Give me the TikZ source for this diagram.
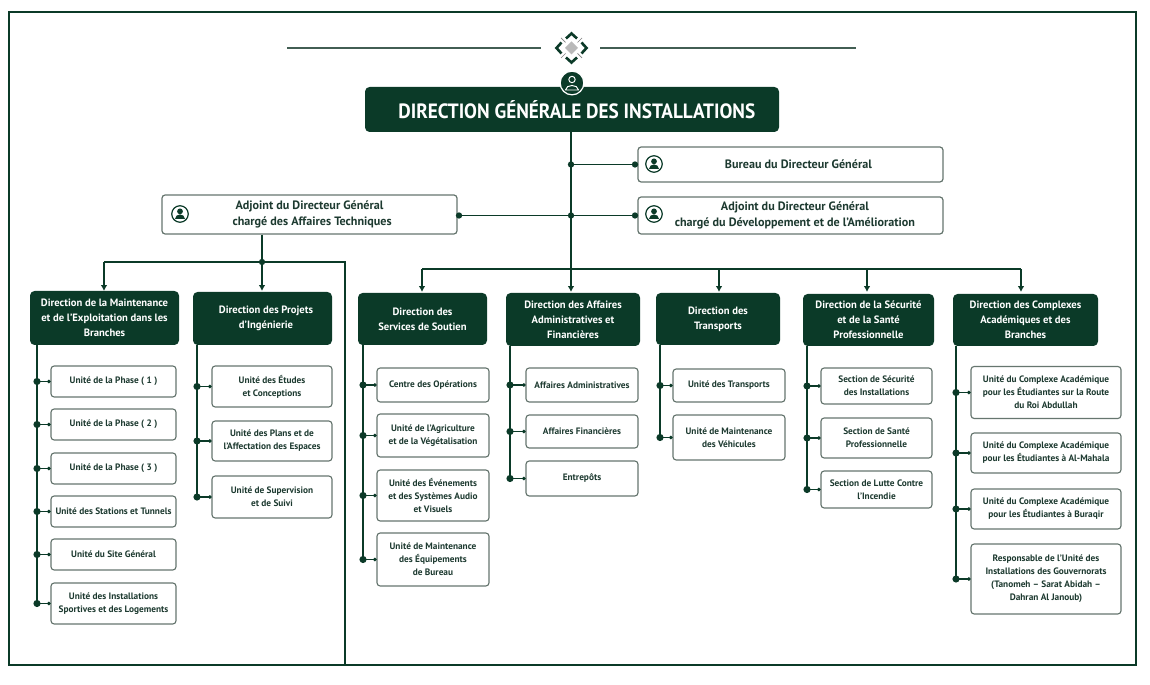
\documentclass[tikz,border=0pt]{standalone}
\usepackage{fontspec}
\setmainfont{PT Sans}
\newfontfamily\titlefont[FakeStretch=0.93]{PT Sans}
\usetikzlibrary{arrows.meta}

\definecolor{deepgreen}{HTML}{0B3A28}
\definecolor{edgegrey}{HTML}{66766F}
\definecolor{inkgreen}{HTML}{1D3A30}

\begin{document}
\begin{tikzpicture}
	[x=0.02cm,y=-0.02cm,
		wh/.style 2 args={minimum width=#1*0.02cm,minimum height=#2*0.02cm},
		headbox/.style={rectangle,rounded corners=2.6pt,fill=deepgreen,text=white,
			inner sep=0pt,align=center,font=\bfseries\fontsize{6.05}{8.5}\selectfont},
		deputybox/.style={rectangle,rounded corners=1.8pt,draw=edgegrey,line width=0.7pt,fill=white,
			text=inkgreen,inner sep=0pt,align=center,font=\bfseries\fontsize{6.9}{8.8}\selectfont},
		unitbox/.style={rectangle,rounded corners=1.8pt,draw=edgegrey,line width=0.65pt,fill=white,
			text=inkgreen,inner sep=0pt,align=center,font=\bfseries\fontsize{5.3}{7.4}\selectfont},
		spine/.style={draw=deepgreen,line width=1pt},
		feed/.style={draw=deepgreen,line width=1.05pt},
		twig/.style={draw=deepgreen,line width=0.9pt,shorten <=-2pt,{Circle[length=4pt]}-{Circle[length=1.8pt]}},
		down/.style={draw=deepgreen,line width=1.05pt,-{Latex[length=3.4pt,width=3.8pt]}},
		knot/.style={circle,fill=deepgreen,inner sep=0pt,minimum size=3.6pt},
		personring/.style={circle,draw=deepgreen,line width=0.7pt,fill=white,inner sep=0pt,minimum size=9.4pt}]

	\useasboundingbox (0,0) rectangle (1150,685);
	\fill[white] (0,0) rectangle (1150,685);
	\draw[deepgreen,line width=1.4pt] (9,12) rectangle (1136,665);

	% head ornament
	\coordinate (rule1a) at (287,48);
	\coordinate (rule1b) at (541,48);
	\coordinate (rule2a) at (600,48);
	\coordinate (rule2b) at (856,48);
	\draw[edgegrey!60!deepgreen,line width=0.8pt] (rule1a) -- (rule1b);
	\draw[edgegrey!60!deepgreen,line width=0.8pt] (rule2a) -- (rule2b);
	\fill[gray!55] (571.5,41.5) -- (578,48) -- (571.5,54.5) -- (565,48) -- cycle;
	\draw[deepgreen,line width=1.5pt] (566,38.5) -- (571.5,33.5) -- (577,38.5);
	\draw[deepgreen,line width=1.5pt] (561.5,42.5) -- (556.5,48) -- (561.5,53.5);
	\draw[deepgreen,line width=1.5pt] (581.5,42.5) -- (586.5,48) -- (581.5,53.5);
	\draw[deepgreen,line width=1.5pt] (566,57.5) -- (571.5,62.5) -- (577,57.5);
	\draw[gray,line width=0.4pt] (561,38) -- (565.5,42.5);
	\draw[gray,line width=0.4pt] (582,38) -- (577.5,42.5);
	\draw[gray,line width=0.4pt] (561,58) -- (565.5,53.5);
	\draw[gray,line width=0.4pt] (582,58) -- (577.5,53.5);

	% top level
	\node[headbox,wh={414}{45},font=\titlefont\bfseries\fontsize{11.76}{13}\selectfont] (general) at (572,109.5) {\hspace*{5.5pt}\raisebox{0.5pt}{DIRECTION GÉNÉRALE DES INSTALLATIONS}};
	\node[circle,fill=deepgreen,draw=white,line width=0.7pt,inner sep=0pt,minimum size=13.5pt] (topicon) at (572,83) {};
	\draw[white,line width=0.55pt] (572,79.5) circle [radius=3.2];
	\draw[white,line width=0.55pt] (565.5,90) .. controls (566,84) and (578,84) .. (578.5,90) -- cycle;

	\node[deputybox,wh={305}{35}] (bureau) at (790.5,164.5) {\hspace*{9pt}Bureau du Directeur Général};
	\node[deputybox,wh={305}{37}] (adjdev) at (790.5,215.5) {\hspace*{5pt}Adjoint du Directeur Général\\\hspace*{5pt}chargé du Développement et de l'Amélioration};
	\node[deputybox,wh={295}{39}] (adjtech) at (309.5,214.5) {Adjoint du Directeur Général\\\hspace*{3pt}chargé des Affaires Techniques};

	\node[personring] (ico1) at (654,164) {};
	\node[personring] (ico2) at (654,214) {};
	\node[personring] (ico3) at (180,214) {};
	\foreach \ico in {ico1,ico2,ico3} {
		\fill[deepgreen] ([yshift=1.5pt]\ico.center) circle [radius=1.65pt];
		\fill[deepgreen] ([xshift=-3.1pt,yshift=-3.1pt]\ico.center) .. controls ([xshift=-3.1pt,yshift=0.6pt]\ico.center) and ([xshift=3.1pt,yshift=0.6pt]\ico.center) .. ([xshift=3.1pt,yshift=-3.1pt]\ico.center) -- cycle;
	}

	% directions
	\node[headbox,wh={149}{54}] (d1) at (104.5,318) {Direction de la Maintenance\\et de l'Exploitation dans les\\Branches};
	\node[headbox,wh={139}{53}] (d2) at (262.5,318.5) {\hspace*{4pt}Direction des Projets\\\hspace*{4pt}d'Ingénierie};
	\node[headbox,wh={129}{52}] (d3) at (422.5,319) {Direction des\\Services de Soutien};
	\node[headbox,wh={134}{53}] (d4) at (573,319.5) {Direction des Affaires\\Administratives et\\Financières};
	\node[headbox,wh={124}{52}] (d5) at (718,319) {Direction des\\Transports};
	\node[headbox,wh={131}{52}] (d6) at (868.5,320) {Direction de la Sécurité\\et de la Santé\\Professionnelle};
	\node[headbox,wh={145}{52}] (d7) at (1025.5,320) {Direction des Complexes\\Académiques et des\\Branches};

	% trunk and feeds
	\coordinate (trunkend) at (571,269);
	\coordinate (busleft) at (422,269);
	\coordinate (busright) at (1021,269);
	\coordinate (techjoint) at (262,262);
	\coordinate (cutbottom) at (345,665);
	\coordinate (a1) at (104,291);
	\coordinate (a2) at (262,291);
	\coordinate (a3) at (422,292);
	\coordinate (a4) at (571,292);
	\coordinate (a5) at (719,292);
	\coordinate (a6) at (867,292);
	\coordinate (a7) at (1021,292);
	\draw[feed] (general.south -| trunkend) -- (trunkend);
	\draw[feed] (trunkend |- bureau) -- (bureau);
	\draw[feed] (adjtech.east |- adjdev) -- (adjdev);
	\node[knot] (k1) at (trunkend |- bureau) {};
	\node[knot] (k2) at (trunkend |- adjdev) {};
	\node[knot] (k3) at (635,164.5) {};
	\node[knot] (k4) at (635,215.5) {};
	\node[knot] (k5) at (459,215.5) {};
	\draw[feed] (busleft) -- (busright);
	\draw[down] (busleft) -- (a3);
	\draw[down] (trunkend) -- (a4);
	\draw[down] (trunkend -| a5) -- (a5);
	\draw[down] (trunkend -| a6) -- (a6);
	\draw[down] (busright) -- (a7);

	\draw[feed] (adjtech.south -| techjoint) -- (techjoint);
	\draw[feed] (techjoint -| a1) -- (techjoint -| cutbottom) -- (cutbottom);
	\draw[down] (techjoint -| a1) -- (a1);
	\draw[down] (techjoint) -- (a2);
	\node[knot] (k6) at (techjoint) {};

	% units under d1
	\node[unitbox,wh={125}{31}] (u11) at (113.5,381.5) {Unité de la Phase ( 1 )};
	\node[unitbox,wh={125}{31}] (u12) at (113.5,424.5) {Unité de la Phase ( 2 )};
	\node[unitbox,wh={125}{31}] (u13) at (113.5,468.5) {Unité de la Phase ( 3 )};
	\node[unitbox,wh={125}{31}] (u14) at (113.5,511.5) {Unité des Stations et Tunnels};
	\node[unitbox,wh={125}{31}] (u15) at (113.5,554.5) {Unité du Site Général};
	\node[unitbox,wh={125}{41}] (u16) at (113.5,603.5) {Unité des Installations\\Sportives et des Logements};
	\coordinate (s1) at (37,345);
	\draw[spine] (s1) -- (s1 |- u16);
	\draw[twig] (s1 |- u11) -- (u11);
	\draw[twig] (s1 |- u12) -- (u12);
	\draw[twig] (s1 |- u13) -- (u13);
	\draw[twig] (s1 |- u14) -- (u14);
	\draw[twig] (s1 |- u15) -- (u15);
	\draw[twig] (s1 |- u16) -- (u16);

	% units under d2
	\node[unitbox,wh={120}{41}] (u21) at (272,386.5) {Unité des Études\\et Conceptions};
	\node[unitbox,wh={120}{40}] (u22) at (272,441) {Unité des Plans et de\\l'Affectation des Espaces};
	\node[unitbox,wh={120}{42}] (u23) at (272,497) {Unité de Supervision\\et de Suivi};
	\coordinate (s2) at (197,345);
	\draw[spine] (s2) -- (s2 |- u23);
	\draw[twig] (s2 |- u21) -- (u21);
	\draw[twig] (s2 |- u22) -- (u22);
	\draw[twig] (s2 |- u23) -- (u23);

	% units under d3
	\node[unitbox,wh={112}{34}] (u31) at (433,385) {Centre des Opérations};
	\node[unitbox,wh={112}{43}] (u32) at (433,435.5) {Unité de l'Agriculture\\et de la Végétalisation};
	\node[unitbox,wh={112}{51}] (u33) at (433,495.5) {Unité des Événements\\et des Systèmes Audio\\et Visuels};
	\node[unitbox,wh={112}{53}] (u34) at (433,559.5) {Unité de Maintenance\\des Équipements\\de Bureau};
	\coordinate (s3) at (363,345);
	\draw[spine] (s3) -- (s3 |- u34);
	\draw[twig] (s3 |- u31) -- (u31);
	\draw[twig] (s3 |- u32) -- (u32);
	\draw[twig] (s3 |- u33) -- (u33);
	\draw[twig] (s3 |- u34) -- (u34);

	% units under d4
	\node[unitbox,wh={112}{34}] (u41) at (582,385) {Affaires Administratives};
	\node[unitbox,wh={112}{33}] (u42) at (582,431.5) {Affaires Financières};
	\node[unitbox,wh={112}{35}] (u43) at (582,478.5) {Entrepôts};
	\coordinate (s4) at (510,346);
	\draw[spine] (s4) -- (s4 |- u43);
	\draw[twig] (s4 |- u41) -- (u41);
	\draw[twig] (s4 |- u42) -- (u42);
	\draw[twig] (s4 |- u43) -- (u43);

	% units under d5
	\node[unitbox,wh={112}{33}] (u51) at (729,385.5) {Unité des Transports};
	\node[unitbox,wh={112}{45}] (u52) at (729,437.5) {Unité de Maintenance\\des Véhicules};
	\coordinate (s5) at (660,345);
	\draw[spine] (s5) -- (s5 |- u52);
	\draw[twig] (s5 |- u51) -- (u51);
	\draw[twig] (s5 |- u52) -- (u52);

	% units under d6
	\node[unitbox,wh={111}{36}] (u61) at (876.5,386) {Section de Sécurité\\des Installations};
	\node[unitbox,wh={111}{40}] (u62) at (876.5,438) {Section de Santé\\Professionnelle};
	\node[unitbox,wh={111}{37}] (u63) at (876.5,489.5) {Section de Lutte Contre\\l'Incendie};
	\coordinate (s6) at (807,346);
	\draw[spine] (s6) -- (s6 |- u63);
	\draw[twig] (s6 |- u61) -- (u61);
	\draw[twig] (s6 |- u62) -- (u62);
	\draw[twig] (s6 |- u63) -- (u63);

	% units under d7
	\node[unitbox,wh={150}{52}] (u71) at (1046,392.5) {Unité du Complexe Académique\\pour les Étudiantes sur la Route\\du Roi Abdullah};
	\node[unitbox,wh={150}{40}] (u72) at (1046,453) {Unité du Complexe Académique\\pour les Étudiantes à Al-Mahala};
	\node[unitbox,wh={150}{40}] (u73) at (1046,509) {Unité du Complexe Académique\\pour les Étudiantes à Buraqir};
	\node[unitbox,wh={150}{70}] (u74) at (1046,579) {Responsable de l'Unité des\\Installations des Gouvernorats\\(Tanomeh – Sarat Abidah –\\Dahran Al Janoub)};
	\coordinate (s7) at (956,346);
	\draw[spine] (s7) -- (s7 |- u74);
	\draw[twig] (s7 |- u71) -- (u71);
	\draw[twig] (s7 |- u72) -- (u72);
	\draw[twig] (s7 |- u73) -- (u73);
	\draw[twig] (s7 |- u74) -- (u74);

\end{tikzpicture}
\end{document}
